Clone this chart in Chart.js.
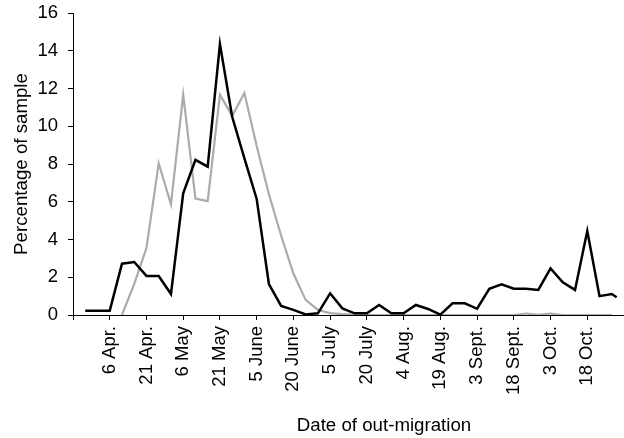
<!DOCTYPE html>
<html>
<head>
<meta charset="utf-8">
<script src="https://cdn.jsdelivr.net/npm/chart.js@4"></script>
<style>
html, body { margin: 0; padding: 0; background: #fff; }
#wrap { width: 624px; height: 438px; position: relative; }
</style>
</head>
<body>
<div id="wrap"><canvas id="chart"></canvas></div>
<script>
// days counted from 22 Mar.
var days = [5, 10, 15, 20, 25, 30, 35, 40, 45, 50, 55, 60, 65, 70, 75, 80, 85, 90, 95, 100,
    105, 110, 115, 120, 125, 130, 135, 140, 145, 150, 155, 160, 165, 170, 175, 180, 185, 190,
    195, 200, 205, 210, 215, 220, 222]

var blackSeries = [0.23, 0.23, 0.23, 2.72, 2.81, 2.07, 2.07, 1.11, 6.45, 8.22, 7.86, 14.35,
    10.5, 8.3, 6.15, 1.64, 0.48, 0.27, 0.03, 0.09, 1.15, 0.35, 0.09, 0.09, 0.53, 0.09, 0.09,
    0.53, 0.32, 0.02, 0.62, 0.62, 0.33, 1.39, 1.63, 1.39, 1.39, 1.33, 2.47, 1.73, 1.33, 4.45,
    1.0, 1.11, 0.94]

var graySeries = [null, null, null, 0, 1.65, 3.55, 8.04, 5.87, 11.67, 6.17, 6.03, 11.67,
    10.55, 11.76, 8.95, 6.4, 4.2, 2.2, 0.8, 0.27, 0.1, 0.05, 0.02, 0, 0, 0, 0, 0, 0, 0,
    0, 0, 0, 0, 0, 0, 0.08, 0.01, 0.08, 0, 0, 0, 0, 0, null]

var tickDays = [0, 15, 30, 45, 60, 75, 90, 105, 120, 135, 150, 165, 180, 195, 210, 225]
var tickLabels = ['', '6 Apr.', '21 Apr.', '6 May', '21 May', '5 June', '20 June', '5 July',
    '20 July', '4 Aug.', '19 Aug.', '3 Sept.', '18 Sept.', '3 Oct.', '18 Oct.', '']

var yTitle = 'Percentage of sample'
var xTitle = 'Date of out-migration'

var FONT = '"Liberation Sans", Arial, sans-serif'

function points(values) {
    return days.map(function (d, i) { return { x: d, y: values[i] } })
}

var axisTitles = {
    id: 'axisTitles',
    afterDraw: function (chart) {
        var ctx = chart.ctx
        var area = chart.chartArea
        ctx.save()
        ctx.fillStyle = '#000'
        ctx.font = '18.7px ' + FONT
        ctx.textAlign = 'center'
        ctx.textBaseline = 'middle'
        ctx.fillText(xTitle, area.left + 311, 426)
        ctx.translate(22, (area.top + area.bottom) / 2)
        ctx.rotate(-Math.PI / 2)
        ctx.fillText(yTitle, 0, 0)
        ctx.restore()
    }
}

new Chart(document.getElementById('chart'), {
    type: 'line',
    data: {
        datasets: [{
            data: points(blackSeries),
            borderColor: '#000',
            borderWidth: 2.5,
            pointRadius: 0,
            tension: 0
        }, {
            data: points(graySeries),
            borderColor: '#ababab',
            borderWidth: 2.2,
            pointRadius: 0,
            tension: 0
        }]
    },
    options: {
        responsive: true,
        maintainAspectRatio: false,
        animation: false,
        events: [],
        layout: { padding: { top: 13, right: 0, left: 0, bottom: 0 } },
        plugins: { legend: { display: false }, tooltip: { enabled: false } },
        scales: {
            x: {
                type: 'linear',
                min: 0,
                max: 225,
                afterBuildTicks: function (scale) {
                    scale.ticks = tickDays.map(function (v) { return { value: v } })
                },
                afterFit: function (scale) {
                    scale.height = 123
                    scale.paddingLeft = 0
                    scale.paddingRight = 0
                },
                grid: { drawOnChartArea: false, drawTicks: true, tickLength: 5, color: '#000' },
                border: { color: '#000', width: 1 },
                ticks: {
                    autoSkip: false,
                    minRotation: 90,
                    maxRotation: 90,
                    padding: 6,
                    color: '#000',
                    font: { family: FONT, size: 18.5 },
                    callback: function (v) { return tickLabels[tickDays.indexOf(v)] }
                }
            },
            y: {
                min: 0,
                max: 16,
                afterFit: function (scale) {
                    scale.width = 73
                    scale.paddingTop = 0
                    scale.paddingBottom = 0
                },
                grid: { drawOnChartArea: false, drawTicks: true, tickLength: 5, color: '#000' },
                border: { color: '#000', width: 1 },
                ticks: {
                    stepSize: 2,
                    padding: 10,
                    color: '#000',
                    font: { family: FONT, size: 18.5 }
                }
            }
        }
    },
    plugins: [axisTitles]
})
</script>
</body>
</html>
